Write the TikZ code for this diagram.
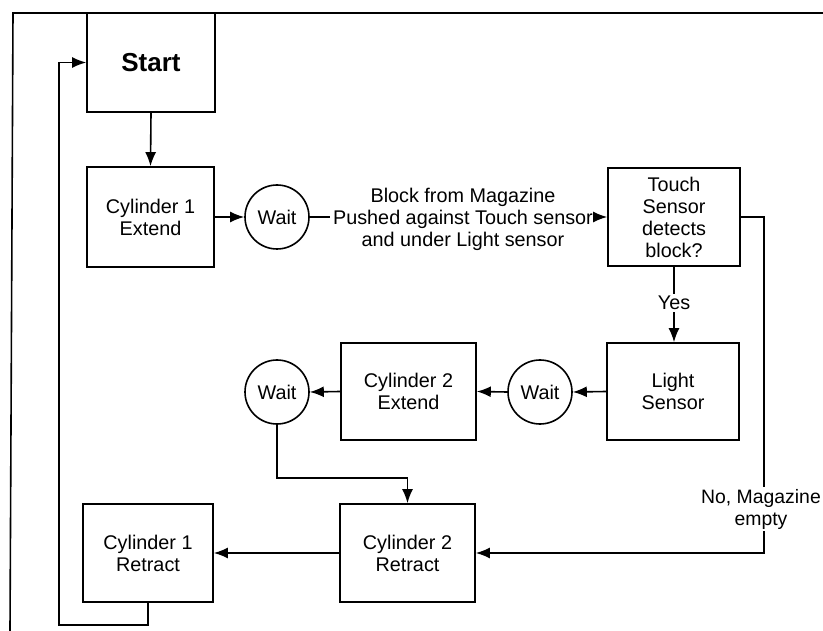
\documentclass[tikz,border=0pt]{standalone}
\usepackage{fontspec}
\setmainfont{Liberation Sans}
\usetikzlibrary{arrows.meta}
\begin{document}
\begin{tikzpicture}[x=1pt,y=-1pt,
  every node/.style={font=\fontsize{19.8}{22}\selectfont, align=center},
  box/.style={draw, line width=1.6pt, inner sep=0pt},
  waitc/.style={draw, circle, line width=1.6pt, minimum size=64pt, inner sep=0pt},
  conn/.style={line width=1.6pt},
  arr/.style={conn, -{Latex[length=14pt,width=11pt]}},
  lbl/.style={fill=white, inner sep=2pt}
]
\useasboundingbox (0,0) rectangle (823,631);
% frame
\coordinate (fTR) at (823,13);
\coordinate (fTL) at (13,13);
\coordinate (fBL) at (10,631);
\draw[conn] (fTR) -- (fTL) -- (fBL);
% nodes
\node[box, minimum width=128pt, minimum height=99pt, font=\fontsize{26}{30}\selectfont\bfseries] (start) at (151,62.5) {Start};
\node[box, minimum width=127pt, minimum height=100pt] (c1e) at (150.5,217) {Cylinder 1\\Extend};
\node[waitc] (w1) at (277,217) {Wait};
\node (blk) at (463,219) {Block from Magazine\\Pushed against Touch sensor\\and under Light sensor};
\node[box, minimum width=132pt, minimum height=98pt] (touch) at (674,217) {Touch\\Sensor\\detects\\block?};
\node[box, minimum width=132pt, minimum height=97pt] (light) at (673,391.5) {Light\\Sensor};
\node[waitc] (w2) at (540,392) {Wait};
\node[box, minimum width=135pt, minimum height=97pt] (c2e) at (408.5,391.5) {Cylinder 2\\Extend};
\node[waitc] (w3) at (277,392) {Wait};
\node[box, minimum width=135pt, minimum height=98pt] (c2r) at (407.5,553) {Cylinder 2\\Retract};
\node[box, minimum width=130pt, minimum height=98pt] (c1r) at (148,553) {Cylinder 1\\Retract};
% connectors
\draw[arr] (start.south) -- (c1e.north);
\draw[arr] (c1e.east) -- (w1.west);
\draw[conn] (w1.east) -- (blk.west |- w1.east);
\draw[arr] (blk.east |- touch.west) -- (touch.west);
\draw[arr] (touch.south) -- (touch.south |- light.north);
\draw[arr] (touch.east) -- (764,217) -- (764,553) -- (c2r.east);
\draw[arr] (light.west) -- (w2.east);
\draw[arr] (w2.west) -- (c2e.east);
\draw[arr] (c2e.west) -- (w3.east);
\draw[arr] (w3.south) -- (277,478) -| (c2r.north);
\draw[arr] (c2r.west) -- (c1r.east);
\draw[arr] (c1r.south) -- (148,625) -| (59,62.5) -- (start.west);
% labels on connectors
\node[lbl] (yes) at (674,303) {Yes};
\node[lbl, font=\fontsize{19.4}{22}\selectfont] (nomag) at (761,509) {No, Magazine\\empty};
\end{tikzpicture}
\end{document}
